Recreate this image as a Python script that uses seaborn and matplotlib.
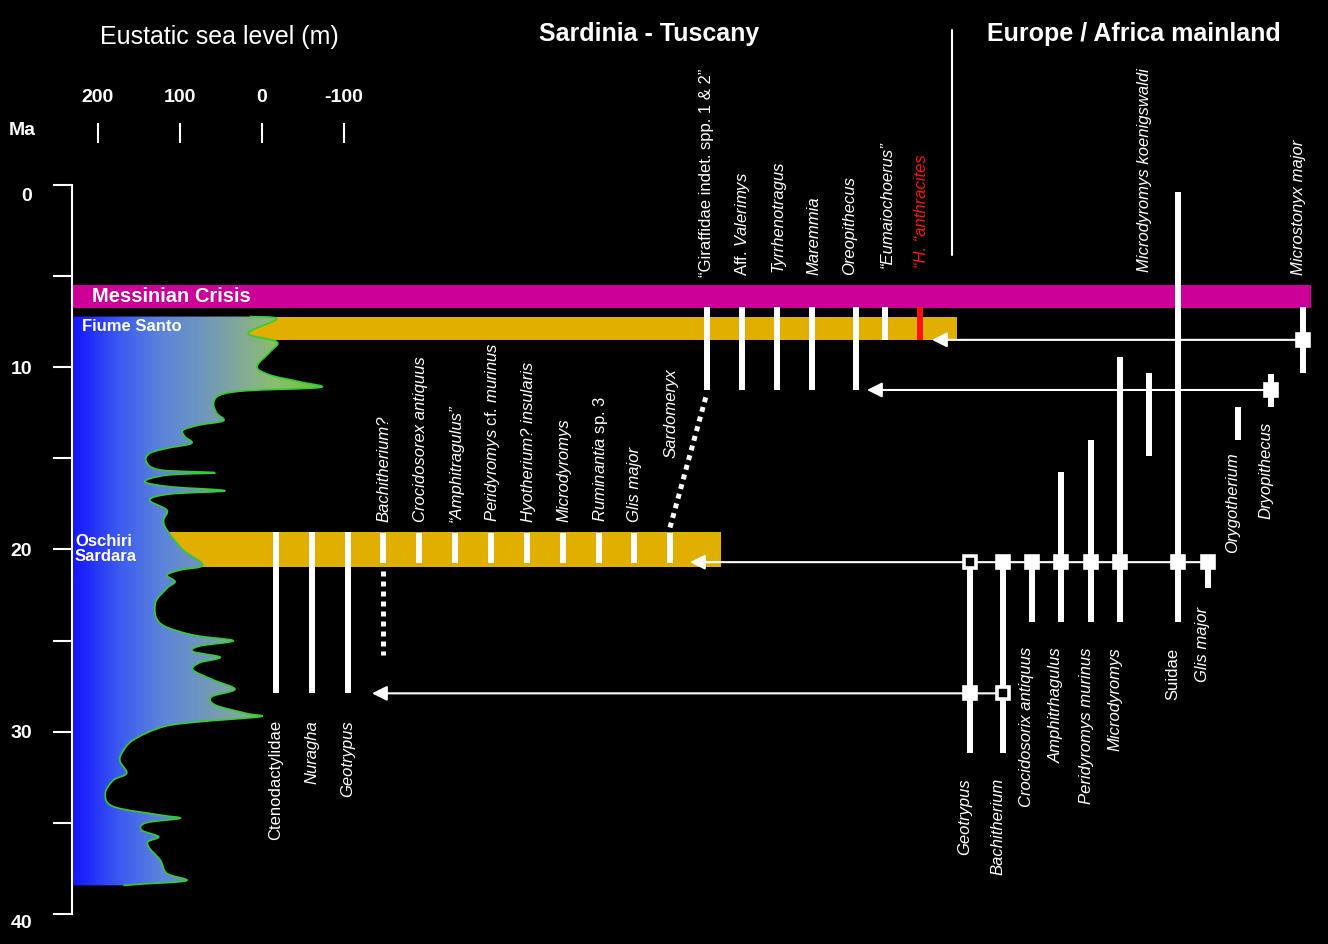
import numpy as np
import matplotlib
matplotlib.use("Agg")
import matplotlib.pyplot as plt
import matplotlib.transforms as mtransforms
from matplotlib.colors import LinearSegmentedColormap
from matplotlib.path import Path
from matplotlib.patches import PathPatch
import seaborn as sns

# ---------------- data ----------------
# eustatic sea-level curve: age (Ma) and sea level (m)
SL_AGE = [7.22, 7.35, 8.14, 8.60, 9.15, 9.97, 10.43, 10.80, 11.11, 11.29, 11.53, 11.98,
          12.53, 12.94, 13.17, 13.45, 13.81, 14.18, 14.45, 14.73, 15.19, 15.64, 15.79,
          15.92, 16.28, 16.56, 16.78, 16.96, 17.29, 17.84, 18.39, 18.93, 20.03, 20.86,
          21.13, 21.41, 21.77, 22.14, 22.96, 24.06, 24.70, 25.01, 25.30, 25.61, 25.92,
          26.22, 26.62, 27.17, 27.68, 28.08, 28.54, 29.00, 29.18, 29.46, 29.73, 30.46,
          31.19, 31.65, 32.29, 32.66, 33.39, 34.12, 34.58, 34.76, 35.00, 35.40, 35.77,
          36.04, 36.41, 37.05, 37.78, 38.18, 38.36, 38.44]
SL_M = [15, -18, 17, -18, -10, 6, -10, -46, -71, 19, 51, 59,
        55, 47, 76, 96, 94, 86, 116, 137, 141, 124, 57,
        116, 143, 112, 45, 112, 137, 116, 120, 116, 96, 72,
        100, 116, 106, 116, 130, 124, 84, 35, 76, 84, 51,
        76, 84, 59, 33, 61, 57, 19, 2, 76, 120, 157,
        171, 173, 165, 181, 191, 181, 124, 100, 141, 147, 126,
        139, 137, 124, 116, 92, 145, 169]
SL_TICKS = [200, 100, 0, -100]

# horizontal bands (Ma)
BAND_NAMES = ["Messinian Crisis", "Fiume Santo", "Oschiri\nSardara"]
BAND_TOP = [5.50, 7.23, 19.03]
BAND_BASE = [6.75, 8.51, 20.98]

# Sardinia - Tuscany, Fiume Santo assemblage
FS_TAXA = ["\u201cGiraffidae indet. spp. 1 & 2\u201d", "Aff. $Valerimys$", "Tyrrhenotragus",
           "Maremmia", "Oreopithecus", "\u201cEumaiochoerus\u201d", "\u201cH. \u201canthracites"]
FS_YOUNG = [6.72, 6.72, 6.72, 6.72, 6.72, 6.72, 6.72]
FS_OLD = [11.25, 11.25, 11.25, 11.25, 11.25, 8.51, 8.51]

# Oschiri - Sardara assemblage (in band)
OS_TAXA = ["Bachitherium?", "Crocidosorex antiquus", "\u201cAmphitragulus\u201d",
           "$Peridyromys$ cf. $murinus$", "Hyotherium? insularis", "Microdyromys",
           "$Ruminantia$ sp. 3", "Glis major", "Sardomeryx"]
OS_YOUNG = [19.10] * 9
OS_OLD = [20.75] * 9
BACHI_DOTS = [21.2, 25.8]          # uncertain extension of Bachitherium?
SARDO_LINK = [18.8, 11.4]          # Sardomeryx -> Giraffidae link (Ma)

# older Sardinian taxa
OLD_TAXA = ["Ctenodactylidae", "Nuragha", "Geotrypus"]
OLD_YOUNG = [19.05, 19.05, 19.05]
OLD_OLD = [27.9, 27.9, 27.9]

# Europe / Africa mainland ranges
ML_TAXA = ["Geotrypus", "Bachitherium", "Crocidosorix antiquus", "Amphitrhagulus",
           "Peridyromys murinus", "Microdyromys", "Microdyromys koenigswaldi", "Suidae",
           "Glis major", "Orygotherium", "Dryopithecus", "Microstonyx major"]
ML_YOUNG = [20.7, 20.7, 20.7, 15.75, 14.0, 9.45, 10.3, 0.4, 20.7, 12.2, 10.4, 6.72]
ML_OLD = [31.2, 31.2, 24.0, 24.0, 24.0, 24.0, 14.9, 24.0, 22.1, 14.0, 12.2, 10.3]

# dispersal events (Ma)
EV_AGE = [8.5, 11.25, 20.7, 27.9]
# markers: taxon index, age, hollow
MK_TAXON = [11, 10, 0, 1, 2, 3, 4, 5, 7, 8, 0, 1]
MK_AGE = [8.5, 11.25, 20.7, 20.7, 20.7, 20.7, 20.7, 20.7, 20.7, 20.7, 27.9, 27.9]
MK_HOLLOW = [False, False, True, False, False, False, False, False, False, False, False, True]

# ---------------- layout (pixel columns) ----------------
W, H = 1328, 944
FS_X = [707, 742, 777, 812, 856, 885, 920]
OS_X = [383, 419, 455, 491, 527, 563, 599, 634, 670]
OLD_X = [276, 312, 348]
ML_X = [970, 1003, 1032, 1061, 1091, 1120, 1149, 1178, 1208, 1238, 1271, 1303]
EV_FROM = [1303, 1271, 1208, 1003]
EV_TO = [932, 867, 690, 372]
BAND_RIGHT = [1311, 957, 721]
Y0, PXMA = 185.0, 18.22     # pixel row of 0 Ma, pixels per Ma


def ma(ypx):
    return (ypx - Y0) / PXMA


# ---------------- style ----------------
sns.set_theme(style="dark")
plt.rcParams.update({
    "font.family": ["Liberation Sans", "DejaVu Sans"],
    "mathtext.fontset": "custom",
    "mathtext.rm": "Liberation Sans",
    "mathtext.it": "Liberation Sans:italic",
    "mathtext.bf": "Liberation Sans:bold",
    "axes.facecolor": "black",
    "figure.facecolor": "black",
    "savefig.facecolor": "black",
    "text.color": "white",
    "axes.grid": False,
})

WHITE = "white"
MAGENTA = "#CC0099"
GOLD = "#E1AF00"
RED = "#FF1010"
BAR_LW = 4.3
LAB_FS = 12

fig = plt.figure(figsize=(W / 100, H / 100), dpi=100)
ax = fig.add_axes([0, 0, 1, 1])
ax.set_xlim(0, W)
ax.set_ylim(ma(H), ma(0))
ax.set_facecolor("black")
ax.set_zorder(1)

# y axis (Ma)
sns.despine(ax=ax, top=True, right=True, bottom=True, left=False)
ax.spines["left"].set_position(("data", 72))
ax.spines["left"].set_bounds(0, 40)
ax.spines["left"].set_color(WHITE)
ax.spines["left"].set_linewidth(1.5)
ax.set_xticks([])
ax.set_yticks(np.arange(0, 41, 5))
ax.set_yticklabels(["0", "", "10", "", "20", "", "30", "", "40"])
ax.tick_params(axis="y", direction="out", length=13.7, width=1.5, colors=WHITE,
               labelsize=14, pad=15, left=True)
for lbl in ax.get_yticklabels():
    lbl.set_fontweight("bold")
for tick, dy in zip(ax.yaxis.get_major_ticks(), [9, 0, 0, 0, 0, 0, 0, 0, 8]):
    tick.label1.set_transform(tick.label1.get_transform() +
                              mtransforms.ScaledTranslation(0, -dy / 100, fig.dpi_scale_trans))

# headers
ax.text(219, ma(37), "Eustatic sea level (m)", ha="center", va="center", fontsize=18, color=WHITE)
ax.text(649, ma(34), "Sardinia - Tuscany", ha="center", va="center", fontsize=18,
        fontweight="bold", color=WHITE)
ax.text(1134, ma(34), "Europe / Africa mainland", ha="center", va="center", fontsize=18,
        fontweight="bold", color=WHITE)
ax.text(22, ma(130), "Ma", ha="center", va="center", fontsize=14, fontweight="bold", color=WHITE)
ax.plot([952, 952], [ma(30), ma(255)], color=WHITE, lw=1.5)

# bands
band_cols = [MAGENTA, GOLD, GOLD]
for top, base, right, c in zip(BAND_TOP, BAND_BASE, BAND_RIGHT, band_cols):
    ax.fill_between([72, right], [top, top], [base, base], color=c, lw=0, zorder=1)

# Fiume Santo ranges
fs_cols = [WHITE] * 6 + [RED]
ax.vlines(FS_X, FS_YOUNG, FS_OLD, colors=fs_cols, lw=BAR_LW, capstyle="butt", zorder=3)
fs_lab_y = [ma(277), ma(276), ma(272), ma(275), ma(275), ma(268), ma(268)]
fs_lab_dx = [0, 1, 1, 2, -6, 2, 2]
fs_italic = [False, False, True, True, True, True, True]
for x, dx, y, s, it, c in zip(FS_X, fs_lab_dx, fs_lab_y, FS_TAXA, fs_italic, fs_cols):
    ax.text(x + dx, y, s, rotation=90, ha="center", va="bottom", fontsize=LAB_FS, color=c,
            style="italic" if it else "normal")

# Oschiri band taxa
ax.vlines(OS_X, OS_YOUNG, OS_OLD, colors=WHITE, lw=BAR_LW, capstyle="butt", zorder=3)
os_italic = [True, True, True, False, True, True, False, True, True]
os_lab_y = [ma(522)] * 8 + [ma(458)]
for x, y, s, it in zip(OS_X, os_lab_y, OS_TAXA, os_italic):
    ax.text(x + 1, y, s, rotation=90, ha="center", va="bottom", fontsize=LAB_FS, color=WHITE,
            style="italic" if it else "normal")
ax.plot([OS_X[0], OS_X[0]], BACHI_DOTS, color=WHITE, lw=3.6, ls=(0, (1, 1)),
        dash_capstyle="butt", zorder=3)
ax.plot([OS_X[-1], FS_X[0]], SARDO_LINK, color=WHITE, lw=3.6, ls=(0, (1, 1)),
        dash_capstyle="butt", zorder=3)

# older Sardinian taxa
ax.vlines(OLD_X, OLD_YOUNG, OLD_OLD, colors=WHITE, lw=BAR_LW, capstyle="butt", zorder=3)
old_italic = [False, True, True]
for x, s, it in zip(OLD_X, OLD_TAXA, old_italic):
    ax.text(x, ma(720), s, rotation=90, ha="center", va="top", fontsize=LAB_FS, color=WHITE,
            style="italic" if it else "normal")

# mainland ranges
ax.vlines(ML_X, ML_YOUNG, ML_OLD, colors=WHITE, lw=BAR_LW, capstyle="butt", zorder=3)
ml_lab_y = [ma(778), ma(778), ma(647), ma(647), ma(647), ma(647), ma(272), ma(648),
            ma(607), ma(452), ma(422), ma(275)]
ml_lab_va = ["top"] * 6 + ["bottom"] + ["top"] * 4 + ["bottom"]
for x, y, va, s in zip(ML_X, ml_lab_y, ml_lab_va, ML_TAXA):
    ax.text(x - 5, y, s, rotation=90, ha="center", va=va, fontsize=LAB_FS, color=WHITE,
            style="normal" if s == "Suidae" else "italic")

# dispersal arrows
for age, x0, x1 in zip(EV_AGE, EV_FROM, EV_TO):
    ax.annotate("", xy=(x1, age), xytext=(x0, age),
                arrowprops=dict(arrowstyle="-|>,head_length=0.9,head_width=0.45",
                                color=WHITE, lw=1.5, shrinkA=0, shrinkB=0, mutation_scale=10),
                zorder=4)

# markers
for ti, age, hollow in zip(MK_TAXON, MK_AGE, MK_HOLLOW):
    ax.plot(ML_X[ti], age, marker="s", ms=8.5, mew=2.6, mec=WHITE,
            mfc="black" if hollow else WHITE, zorder=6)

# ---------------- sea-level panel ----------------
X_LEFT, X_RIGHT, Y_TOP = 72, 360, 143
sl_left = (262 - X_LEFT) / 0.82
sl_right = (262 - X_RIGHT) / 0.82
sl_ax = fig.add_axes([X_LEFT / W, (H - 914) / H, (X_RIGHT - X_LEFT) / W, (914 - Y_TOP) / H])
sl_ax.set_zorder(2)
sl_ax.patch.set_alpha(0)
for s in sl_ax.spines.values():
    s.set_visible(False)

# smooth curve through the read points (Catmull-Rom as cubic Bezier segments)
pts = np.column_stack([SL_M, SL_AGE]).astype(float)
P = np.vstack([pts[0], pts, pts[-1]])
curve_v = [tuple(pts[0])]
curve_c = [Path.MOVETO]
for i in range(1, len(P) - 2):
    p0, p1, p2, p3 = P[i - 1], P[i], P[i + 1], P[i + 2]
    c1 = p1 + (p2 - p0) / 6.0
    c2 = p2 - (p3 - p1) / 6.0
    curve_v += [tuple(c1), tuple(c2), tuple(p2)]
    curve_c += [Path.CURVE4] * 3

SL_AXIS = (262 - 73) / 0.82
fill_v = [(SL_AXIS, SL_AGE[0])] + curve_v + [(SL_AXIS, SL_AGE[-1]), (SL_AXIS, SL_AGE[0])]
fill_c = [Path.MOVETO, Path.LINETO] + curve_c[1:] + [Path.LINETO, Path.CLOSEPOLY]
fill_patch = PathPatch(Path(fill_v, fill_c), facecolor="none", edgecolor="none")
sl_ax.add_patch(fill_patch)

cmap = LinearSegmentedColormap.from_list(
    "sea", [(0.0, "#1414ff"), (0.19, "#3c5af0"), (0.35, "#5a82dc"), (0.52, "#6e96be"),
            (0.68, "#82aa96"), (0.82, "#8cbe6e"), (1.0, "#64c832")])
grad = np.linspace(0, 1, 256)[None, :]
im = sl_ax.imshow(grad, extent=[sl_left, (262 - 320) / 0.82, 40, -2.3], aspect="auto",
                  cmap=cmap, zorder=1)
im.set_clip_path(fill_patch)
sl_ax.add_patch(PathPatch(Path(curve_v, curve_c), facecolor="none", edgecolor="#33cc33",
                          lw=1.2, zorder=2))
sl_ax.set_xlim(sl_left, sl_right)
sl_ax.set_ylim(ma(914), ma(Y_TOP))
sl_ax.set_yticks([])
sl_ax.xaxis.tick_top()
sl_ax.set_xticks(SL_TICKS)
sl_ax.set_xticklabels([str(t) for t in SL_TICKS])
sl_ax.tick_params(axis="x", direction="out", length=14.4, width=1.5, colors=WHITE,
                  labelsize=14, pad=12, top=True, bottom=False)
for lbl in sl_ax.get_xticklabels():
    lbl.set_fontweight("bold")

# band names above the gradient
name_pos = [(92, ma(296), 14.5), (82, ma(326), 12), (75, ma(548.5), 12)]
for (x, y, fs), s in zip(name_pos, BAND_NAMES):
    sl_ax.text(x, y, s, transform=ax.transData, ha="left", va="center", fontsize=fs,
               fontweight="bold", color=WHITE, linespacing=1.0, clip_on=False, zorder=5)

fig.savefig("out.png", dpi=100, facecolor="black")
